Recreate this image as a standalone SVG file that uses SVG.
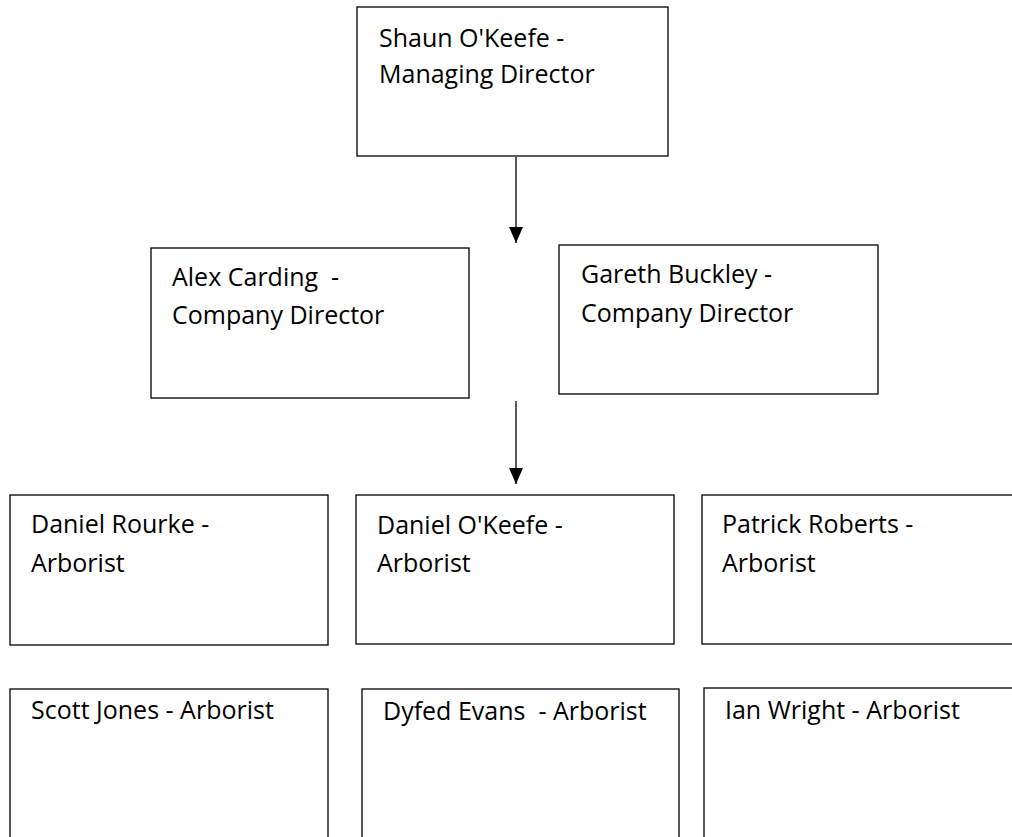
<svg xmlns="http://www.w3.org/2000/svg" width="1012" height="837" viewBox="0 0 1012 837">
<defs>
<style>
.box{fill:#fff;stroke:#000;stroke-width:1.3}
.t{font-family:"Open Sans","Liberation Sans",sans-serif;font-size:25px;fill:#000;white-space:pre}
.c{stroke:#000;stroke-width:1.3;fill:none}
</style>
<marker id="ad" viewBox="0 0 14 16" refX="7" refY="16" markerWidth="14" markerHeight="16" markerUnits="userSpaceOnUse" orient="0">
<path d="M0,0 L14,0 L7,16 z" fill="#000"/>
</marker>
</defs>
<rect width="1012" height="837" fill="#fff"/>
<g id="connectors">
<line class="c" x1="516" y1="157" x2="516" y2="243" marker-end="url(#ad)"/>
<line class="c" x1="516" y1="401" x2="516" y2="484" marker-end="url(#ad)"/>
</g>
<g id="shaun"><rect class="box" x="357" y="7" width="311" height="149"/>
<text class="t" x="379" y="47">Shaun O'Keefe -</text><text class="t" x="379" y="83">Managing Director</text></g>
<g id="alex"><rect class="box" x="151" y="248" width="318" height="150"/>
<text class="t" x="172" y="286">Alex Carding  -</text><text class="t" x="172" y="324">Company Director</text></g>
<g id="gareth"><rect class="box" x="559" y="245" width="319" height="149"/>
<text class="t" x="581" y="283">Gareth Buckley -</text><text class="t" x="581" y="322">Company Director</text></g>
<g id="daniel-rourke"><rect class="box" x="10" y="495" width="318" height="150"/>
<text class="t" x="31" y="533">Daniel Rourke -</text><text class="t" x="31" y="572">Arborist</text></g>
<g id="daniel-okeefe"><rect class="box" x="356" y="495" width="318" height="149"/>
<text class="t" x="377" y="534">Daniel O'Keefe -</text><text class="t" x="377" y="572">Arborist</text></g>
<g id="patrick"><rect class="box" x="702" y="495" width="318" height="149"/>
<text class="t" x="722" y="533">Patrick Roberts -</text><text class="t" x="722" y="572">Arborist</text></g>
<g id="scott"><rect class="box" x="10" y="689" width="318" height="160"/>
<text class="t" x="31" y="719">Scott Jones - Arborist</text></g>
<g id="dyfed"><rect class="box" x="362" y="689" width="317" height="160"/>
<text class="t" x="383" y="720">Dyfed Evans  - Arborist</text></g>
<g id="ian"><rect class="box" x="704" y="688" width="318" height="160"/>
<text class="t" x="725" y="719">Ian Wright - Arborist</text></g>
</svg>
